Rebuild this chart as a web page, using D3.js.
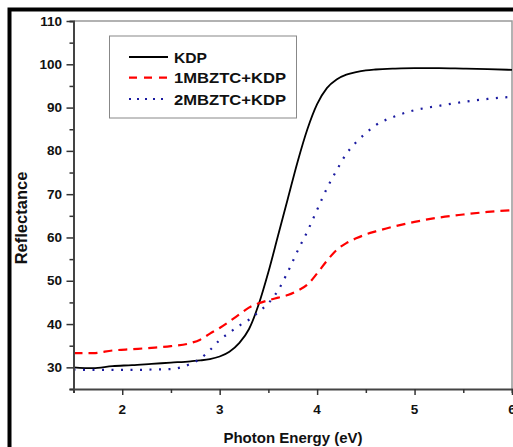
<!DOCTYPE html>
<html><head><meta charset="utf-8">
<script src="https://cdn.jsdelivr.net/npm/d3@7"></script>
<style>body{margin:0;background:#fff;overflow:hidden}svg{display:block}text{font-family:"Liberation Sans",Arial,sans-serif;font-weight:bold;fill:#111}</style>
</head><body><svg id="c" width="513" height="447"></svg>
<script>
const energy = [1.5,1.7,1.9,2.1,2.3,2.5,2.7,2.8,2.9,3.0,3.1,3.2,3.3,3.4,3.5,3.6,3.7,3.8,3.9,4.0,4.1,4.2,4.3,4.4,4.5,4.6,4.8,5.0,5.25,5.5,5.75,6.0];
const kdp   = [30.0,29.8,30.3,30.5,30.8,31.1,31.4,31.6,31.9,32.5,33.6,35.6,38.8,44.5,52.0,60.5,69.0,77.5,85.0,90.8,94.5,96.5,97.6,98.2,98.6,98.8,99.0,99.1,99.1,99.0,98.9,98.7];
const mb1   = [33.3,33.3,33.9,34.2,34.5,34.9,35.6,36.4,37.8,39.1,40.6,42.2,43.8,44.8,45.5,46.1,46.7,47.7,49.1,51.7,54.6,57.1,58.7,59.8,60.7,61.4,62.6,63.6,64.6,65.3,65.9,66.3];
const mb2   = [29.5,29.4,29.4,29.4,29.5,29.6,30.8,32.0,34.0,36.3,38.0,39.6,41.0,42.8,44.8,47.8,52.1,56.9,61.4,66.4,71.3,75.5,79.3,82.0,84.1,85.9,88.0,89.4,90.4,91.3,92.0,92.5];
const seriesNames = ["KDP","1MBZTC+KDP","2MBZTC+KDP"];
const xTicks = [2,3,4,5,6];
const yTicks = [30,40,50,60,70,80,90,100,110];

const svg = d3.select("#c");
const L=73.5, R=512, T=21, B=389;
const x = d3.scaleLinear().domain([1.5,6]).range([L,R]);
const y = d3.scaleLinear().domain([25,110]).range([B,T]);

// outer black frame
svg.append("path").attr("d","M9.5,447 V9.5 H513").attr("fill","none").attr("stroke","#000").attr("stroke-width",4);

// frame top/right
svg.append("path").attr("d",`M${L},${T} H${R} V${B}`).attr("fill","none").attr("stroke","#999").attr("stroke-width",1.5);

const lines = [
  {v:kdp, color:"#000", dash:null, w:1.8},
  {v:mb1, color:"#f00", dash:"9,6", w:2.2},
  {v:mb2, color:"#1a1aa0", dash:"2,7.5", w:2.2}
];
const g = svg.append("g");
lines.forEach(s=>{
  const line = d3.line().x((d,i)=>x(energy[i])).y(d=>y(d)).curve(d3.curveMonotoneX);
  const p = g.append("path").datum(s.v).attr("d",line).attr("fill","none")
    .attr("stroke",s.color).attr("stroke-width",s.w);
  if(s.dash) p.attr("stroke-dasharray",s.dash);
});

// axes
const xAxis = svg.append("g").attr("transform",`translate(0,${B})`);
xAxis.call(d3.axisBottom(x).tickValues(d3.range(1.5,6.01,0.5)).tickSize(4).tickFormat(""));
xAxis.call(g=>g.selectAll(".tick").filter(d=>xTicks.includes(d)).select("line").attr("y2",6));
const yAxis = svg.append("g").attr("transform",`translate(${L},0)`);
yAxis.call(d3.axisLeft(y).tickValues(d3.range(25,110.01,5)).tickSize(4).tickFormat(""));
yAxis.call(g=>g.selectAll(".tick").filter(d=>yTicks.includes(d)).select("line").attr("x2",-7));
[xAxis,yAxis].forEach(a=>{
  a.select(".domain").attr("stroke","#444").attr("stroke-width",2);
  a.selectAll(".tick line").attr("stroke","#333").attr("stroke-width",1.5);
});
svg.selectAll(".xl").data(xTicks).join("text").attr("x",d=>x(d)).attr("y",413.5)
  .attr("text-anchor","middle").attr("font-size",13.5).text(d=>d);
svg.selectAll(".yl").data(yTicks).join("text").attr("x",62).attr("y",d=>y(d)+4.5)
  .attr("text-anchor","end").attr("font-size",13.5).text(d=>d);

svg.append("text").attr("x",293).attr("y",443).attr("text-anchor","middle").attr("font-size",15).text("Photon Energy (eV)");
svg.append("text").attr("transform","translate(27,218) rotate(-90)").attr("text-anchor","middle").attr("font-size",16.5).text("Reflectance");

// legend
svg.append("rect").attr("x",109.5).attr("y",36).attr("width",187).attr("height",82).attr("fill","#fff").attr("stroke","#888").attr("stroke-width",1);
const legY=[57,77.7,99];
const legW=[33,112,112];
lines.forEach((s,i)=>{
  const l = svg.append("line").attr("x1",129).attr("x2",168).attr("y1",legY[i]).attr("y2",legY[i])
    .attr("stroke",s.color).attr("stroke-width",s.w);
  if(s.dash) l.attr("stroke-dasharray", i==1?"8,7":"2,6");
  svg.append("text").attr("x",174).attr("y",legY[i]+5.5).attr("font-size",15)
    .attr("textLength",legW[i]).attr("lengthAdjust","spacingAndGlyphs").text(seriesNames[i]);
});
</script></body></html>
